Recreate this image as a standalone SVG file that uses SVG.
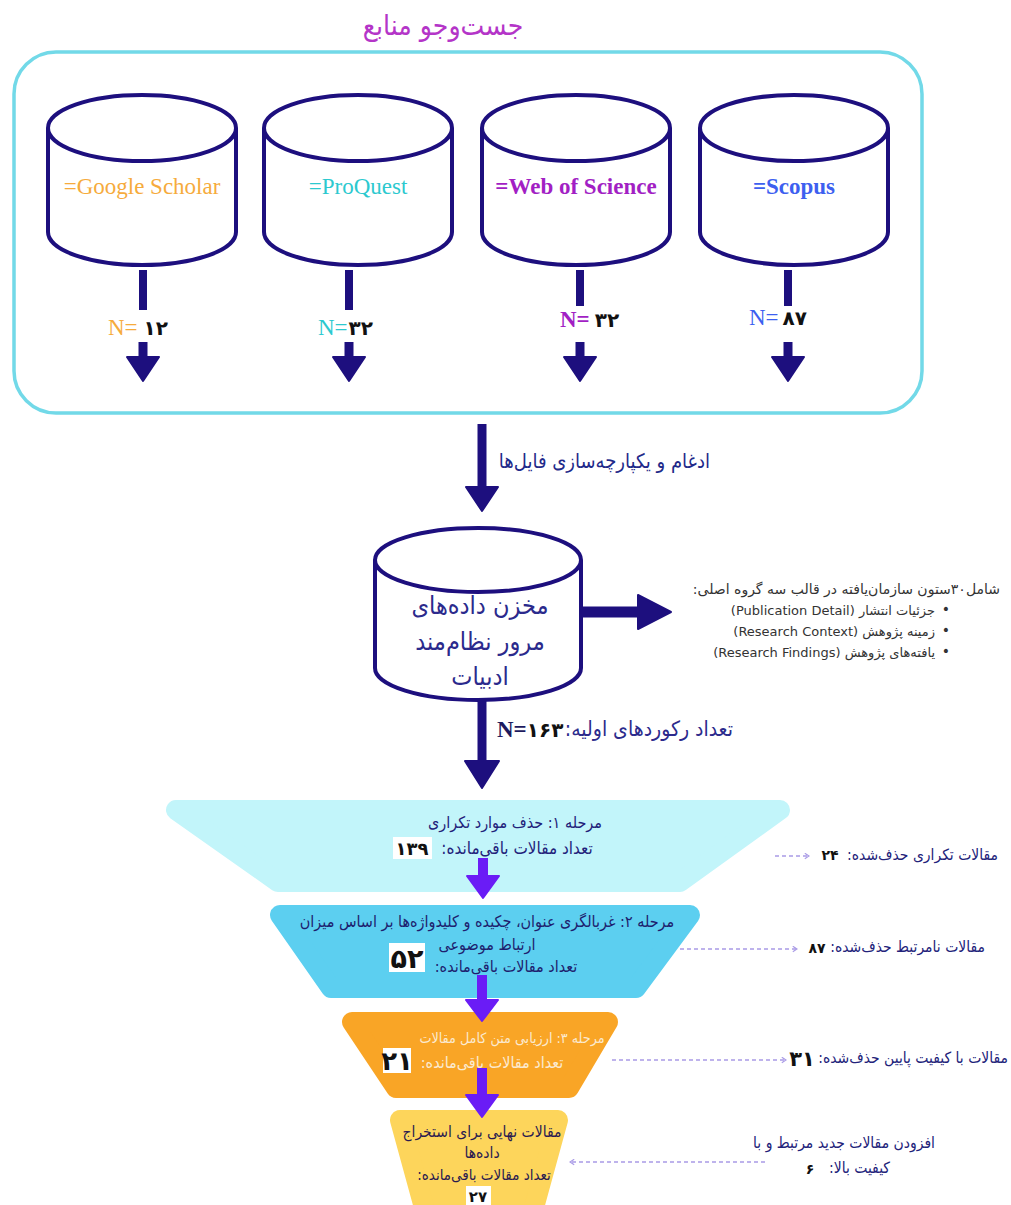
<svg xmlns="http://www.w3.org/2000/svg" width="1011" height="1205" viewBox="0 0 1011 1205">
<defs>
<style>
.cyl{fill:#fff;stroke:#1d0f7e;stroke-width:4}
.nv{stroke:#1d0f7e;stroke-linecap:butt}
.nvf{fill:#1d0f7e}
.pp{stroke:#6a1cf6}
.ppf{fill:#6a1cf6}
.fa{font-family:"DejaVu Sans Condensed","DejaVu Sans",sans-serif;direction:rtl}
.fw{font-family:"DejaVu Sans",sans-serif;direction:rtl}
.lat{font-family:"Liberation Serif","DejaVu Serif",serif}
.dash{stroke:#a99ae6;stroke-width:1.6;stroke-dasharray:4 3;fill:none}
.num{font-family:"DejaVu Sans",sans-serif;font-weight:bold;fill:#111}
.r{text-anchor:start}
.m{text-anchor:middle}
</style>
<marker id="oh" viewBox="0 0 10 10" refX="8" refY="5" markerWidth="7" markerHeight="7" orient="auto-start-reverse" markerUnits="userSpaceOnUse">
<path d="M2,1 L8,5 L2,9" fill="none" stroke="#a99ae6" stroke-width="1.6"/>
</marker>
</defs>
<rect width="1011" height="1205" fill="#fff"/>

<g id="title">
<text x="443" y="35" class="fa m" font-size="28" fill="#b435c8">جست‌وجو منابع</text>
</g>

<g id="container">
<rect x="14" y="52" width="908" height="361" rx="42" ry="42" fill="none" stroke="#72d9e8" stroke-width="3.5"/>
</g>

<g id="google">
<path class="cyl" d="M48,128 L48,232 A94,33 0 0 0 236,232 L236,128"/>
<ellipse class="cyl" cx="142" cy="128" rx="94" ry="33"/>
<text x="142" y="194" text-anchor="middle" class="lat" font-size="23" fill="#f6ab3c">=Google Scholar</text>
</g>
<g id="proquest">
<path class="cyl" d="M264,128 L264,232 A94,33 0 0 0 452,232 L452,128"/>
<ellipse class="cyl" cx="358" cy="128" rx="94" ry="33"/>
<text x="358" y="194" text-anchor="middle" class="lat" font-size="23" fill="#2cc9cf">=ProQuest</text>
</g>
<g id="wos">
<path class="cyl" d="M482,128 L482,232 A94,33 0 0 0 670,232 L670,128"/>
<ellipse class="cyl" cx="576" cy="128" rx="94" ry="33"/>
<text x="576" y="194" text-anchor="middle" class="lat" font-size="23" font-weight="bold" fill="#a21fc4">=Web of Science</text>
</g>
<g id="scopus">
<path class="cyl" d="M700,128 L700,232 A94,33 0 0 0 888,232 L888,128"/>
<ellipse class="cyl" cx="794" cy="128" rx="94" ry="33"/>
<text x="794" y="194" text-anchor="middle" class="lat" font-size="23" font-weight="bold" fill="#3d5ff0">=Scopus</text>
</g>

<g id="counts">
<text x="108" y="335" class="lat" font-size="23" fill="#f6ab3c">N=<tspan class="num" font-size="20" dx="6">۱۲</tspan></text>
<text x="318" y="335" class="lat" font-size="23" fill="#2cc9cf">N=<tspan class="num" font-size="20" dx="1">۳۲</tspan></text>
<text x="560" y="327" class="lat" font-size="23" font-weight="bold" fill="#a21fc4">N=<tspan class="num" font-size="20" dx="5">۳۲</tspan></text>
<text x="749" y="325" class="lat" font-size="23" fill="#3d5ff0">N=<tspan class="num" font-size="20" dx="4">۸۷</tspan></text>
</g>

<g id="merge-label">
<text x="710" y="468" class="fa r" font-size="20" fill="#1f2a8a">ادغام و یکپارچه‌سازی فایل‌ها</text>
</g>

<g id="repository">
<path class="cyl" d="M375,560 L375,668 A103,32 0 0 0 581,668 L581,560"/>
<ellipse class="cyl" cx="478" cy="560" rx="103" ry="32"/>
<text x="480" y="614" class="fa m" font-size="25" fill="#2b2a8c">مخزن داده‌های</text>
<text x="480" y="650" class="fa m" font-size="25" fill="#2b2a8c">مرور نظام‌مند</text>
<text x="480" y="685" class="fa m" font-size="25" fill="#2b2a8c">ادبیات</text>
</g>

<g id="columns-note" font-size="14" fill="#333">
<text x="1000" y="594" class="fw r">شامل۳۰ستون سازمان‌یافته در قالب سه گروه اصلی:</text>
<text x="935" y="615" class="fw r" font-size="13">جزئیات انتشار (Publication Detail)</text>
<text x="935" y="636" class="fw r" font-size="13">زمینه پژوهش (Research Context)</text>
<text x="935" y="657" class="fw r" font-size="13">یافته‌های پژوهش (Research Findings)</text>
<text x="946" y="614" text-anchor="middle" font-family="DejaVu Sans,sans-serif">•</text>
<text x="946" y="635" text-anchor="middle" font-family="DejaVu Sans,sans-serif">•</text>
<text x="946" y="656" text-anchor="middle" font-family="DejaVu Sans,sans-serif">•</text>
</g>

<g id="initial-count">
<text x="733" y="736" class="fa r" font-size="21" fill="#2b2a8c">تعداد رکوردهای اولیه:</text>
<text x="497" y="737" class="lat" font-size="23" font-weight="bold" fill="#1d1a5e">N=<tspan class="num" font-size="20" fill="#111">۱۶۳</tspan></text>
</g>

<g id="stage1">
<path d="M176,810 L780,810 L680,882 L278,882 Z" fill="#c2f5fa" stroke="#c2f5fa" stroke-width="20" stroke-linejoin="round"/>
<text x="515" y="828" class="fa m" font-size="16" fill="#22227a">مرحله ۱: حذف موارد تکراری</text>
<text x="517" y="854" class="fa m" font-size="17" fill="#22227a">تعداد مقالات باقی‌مانده:</text>
<rect x="393" y="837" width="39" height="22" fill="#fff"/>
<text x="412" y="855" text-anchor="middle" class="num" font-size="18">۱۳۹</text>
</g>

<g id="stage2">
<path d="M280,915 L690,915 L636,988 L331,988 Z" fill="#5ccff0" stroke="#5ccff0" stroke-width="20" stroke-linejoin="round"/>
<text x="487" y="927" class="fa m" font-size="16" fill="#1e1e6e">مرحله ۲: غربالگری عنوان، چکیده و کلیدواژه‌ها بر اساس میزان</text>
<text x="487" y="950" class="fa m" font-size="16" fill="#1e1e6e">ارتباط موضوعی</text>
<text x="506" y="972" class="fa m" font-size="16" fill="#1e1e6e">تعداد مقالات باقی‌مانده:</text>
<rect x="389" y="943" width="36" height="29" fill="#fff"/>
<text x="407" y="968" text-anchor="middle" class="num" font-size="27">۵۲</text>
</g>

<g id="stage3">
<path d="M352,1022 L608,1022 L569,1088 L396,1088 Z" fill="#f9a526" stroke="#f9a526" stroke-width="20" stroke-linejoin="round"/>
<text x="512" y="1043" class="fa m" font-size="14.2" fill="#fbead0">مرحله ۳: ارزیابی متن کامل مقالات</text>
<text x="492" y="1068" class="fa m" font-size="16" fill="#fbead0">تعداد مقالات باقی‌مانده:</text>
<rect x="383" y="1048" width="28" height="25" fill="#fff"/>
<text x="397" y="1070" text-anchor="middle" class="num" font-size="26">۲۱</text>
</g>

<g id="stage4">
<path d="M400,1120 L558,1120 L532,1215 L426,1215 Z" fill="#fdd55b" stroke="#fdd55b" stroke-width="20" stroke-linejoin="round"/>
<text x="482" y="1137" class="fa m" font-size="15.5" fill="#2a1a50">مقالات نهایی برای استخراج</text>
<text x="482" y="1158" class="fa m" font-size="15.5" fill="#2a1a50">داده‌ها</text>
<text x="484" y="1180" class="fa m" font-size="15" fill="#2a1a50">تعداد مقالات باقی‌مانده:</text>
<rect x="466" y="1186" width="25" height="19" fill="#fff"/>
<text x="478" y="1202" text-anchor="middle" class="num" font-size="15">۲۷</text>
</g>

<g id="side-labels" fill="#22227a">
<text x="998" y="860" class="fa r" font-size="15.5">مقالات تکراری حذف‌شده:</text>
<text x="830" y="860" text-anchor="middle" class="num" font-size="14">۲۴</text>
<text x="985" y="952" class="fa r" font-size="15.5">مقالات نامرتبط حذف‌شده:</text>
<text x="817" y="953" text-anchor="middle" class="num" font-size="14">۸۷</text>
<text x="1008" y="1063" class="fa r" font-size="15.5">مقالات با کیفیت پایین حذف‌شده:</text>
<text x="802" y="1066" text-anchor="middle" class="num" font-size="21">۳۱</text>
<text x="935" y="1148" class="fa r" font-size="15.5">افزودن مقالات جدید مرتبط و با</text>
<text x="890" y="1173" class="fa r" font-size="15.5">کیفیت بالا:</text>
<text x="810" y="1174" text-anchor="middle" class="num" font-size="14">۶</text>
</g>

<g id="connectors">
<g class="nv" stroke-width="8">
<line x1="143" y1="270" x2="143" y2="310"/>
<line x1="349" y1="270" x2="349" y2="310"/>
<line x1="580" y1="270" x2="580" y2="306"/>
<line x1="788" y1="270" x2="788" y2="306"/>
<line x1="143" y1="342" x2="143" y2="360" stroke-width="9"/>
<line x1="349" y1="342" x2="349" y2="360" stroke-width="9"/>
<line x1="580" y1="342" x2="580" y2="360" stroke-width="9"/>
<line x1="788" y1="342" x2="788" y2="360" stroke-width="9"/>
<line x1="482" y1="424" x2="482" y2="490" stroke-width="9"/>
<line x1="583" y1="612" x2="640" y2="612" stroke-width="11"/>
<line x1="482" y1="701" x2="482" y2="764" stroke-width="9"/>
</g>
<g class="nvf" stroke="#1d0f7e" stroke-width="2" stroke-linejoin="round">
<polygon points="127,357 159,357 143,381"/>
<polygon points="333,357 365,357 349,381"/>
<polygon points="564,357 596,357 580,381"/>
<polygon points="772,357 804,357 788,381"/>
<polygon points="466,487 498,487 482,511"/>
<polygon points="638,595 638,629 671,612"/>
<polygon points="465,761 499,761 482,788"/>
</g>
<g class="pp" stroke-width="10">
<line x1="483" y1="858" x2="483" y2="879"/>
<line x1="482" y1="975" x2="482" y2="1003"/>
<line x1="482" y1="1068" x2="482" y2="1097"/>
</g>
<g class="ppf" stroke="#6a1cf6" stroke-width="2" stroke-linejoin="round">
<polygon points="467,876 499,876 483,898"/>
<polygon points="466,1000 498,1000 482,1021"/>
<polygon points="466,1095 498,1095 482,1117"/>
</g>
<line class="dash" x1="775" y1="856" x2="809" y2="856" marker-end="url(#oh)"/>
<line class="dash" x1="680" y1="949" x2="797" y2="949" marker-end="url(#oh)"/>
<line class="dash" x1="612" y1="1060" x2="786" y2="1060" marker-end="url(#oh)"/>
<line class="dash" x1="765" y1="1162" x2="570" y2="1162" marker-end="url(#oh)"/>
</g>
</svg>
